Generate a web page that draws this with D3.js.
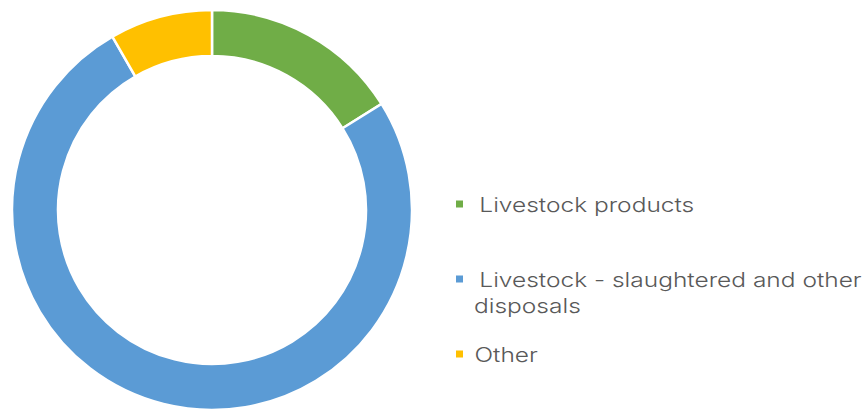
<!DOCTYPE html>
<html><head><meta charset="utf-8">
<script src="https://cdn.jsdelivr.net/npm/d3@7"></script>
<style>html,body{margin:0;padding:0;background:#fff;}svg{display:block;}</style>
</head><body>
<svg id="chart" width="868" height="411"></svg>
<script>
const categories = ["Livestock products", "Livestock - slaughtered and other disposals", "Other"];
const values = [16.1, 75.6, 8.3];
const colors = ["#70AD47", "#5B9BD5", "#FFC000"];
const legendLines = [["Livestock products"], ["Livestock - slaughtered and other", "disposals"], ["Other"]];

const svg = d3.select("#chart");
const cx = 212, cy = 210, rOuter = 200, rInner = 154;

const pie = d3.pie().sort(null).value(d => d)(values);
const arc = d3.arc().innerRadius(rInner).outerRadius(rOuter);

svg.append("g").attr("transform", `translate(${cx},${cy})`)
  .selectAll("path").data(pie).join("path")
  .attr("d", arc)
  .attr("fill", (d, i) => colors[i])
  .attr("stroke", "#fff").attr("stroke-width", 2.5).attr("stroke-linejoin", "miter");

const legend = svg.append("g");
const squareY = [200.5, 275.5, 350.5];
const baselines = [[211.7], [286.5], [361.7]];
const wrapBaseline = 312.9;
const lineX = [[479.3], [479.3, 474], [474.5]];
const font = "Inter, 'Open Sans', sans-serif";
const fontSize = 20;

const items = [];
categories.forEach((c, i) => {
  legend.append("rect").attr("x", 456).attr("y", squareY[i]).attr("width", 7).attr("height", 7).attr("fill", colors[i]);
  legendLines[i].forEach((t, j) => {
    const y = j === 0 ? baselines[i][0] : wrapBaseline;
    const el = legend.append("text")
      .attr("class", "lg")
      .attr("font-family", font)
      .attr("font-weight", 300)
      .attr("font-size", fontSize)
      .attr("fill", "#595959")
      .text(t);
    items.push({el, x: lineX[i][j], y});
  });
});

// stretch glyphs horizontally so the longest legend line spans the same width as in the reference
const probe = legend.selectAll("text.lg").filter(function(){ return this.textContent.indexOf("slaughtered") >= 0; }).node();
const w = probe.getComputedTextLength();
const sx = (861.7 - 479.3) / w;
items.forEach(({el, x, y}) => el.attr("transform", `translate(${x},${y}) scale(${sx},1)`));
</script>
</body></html>
